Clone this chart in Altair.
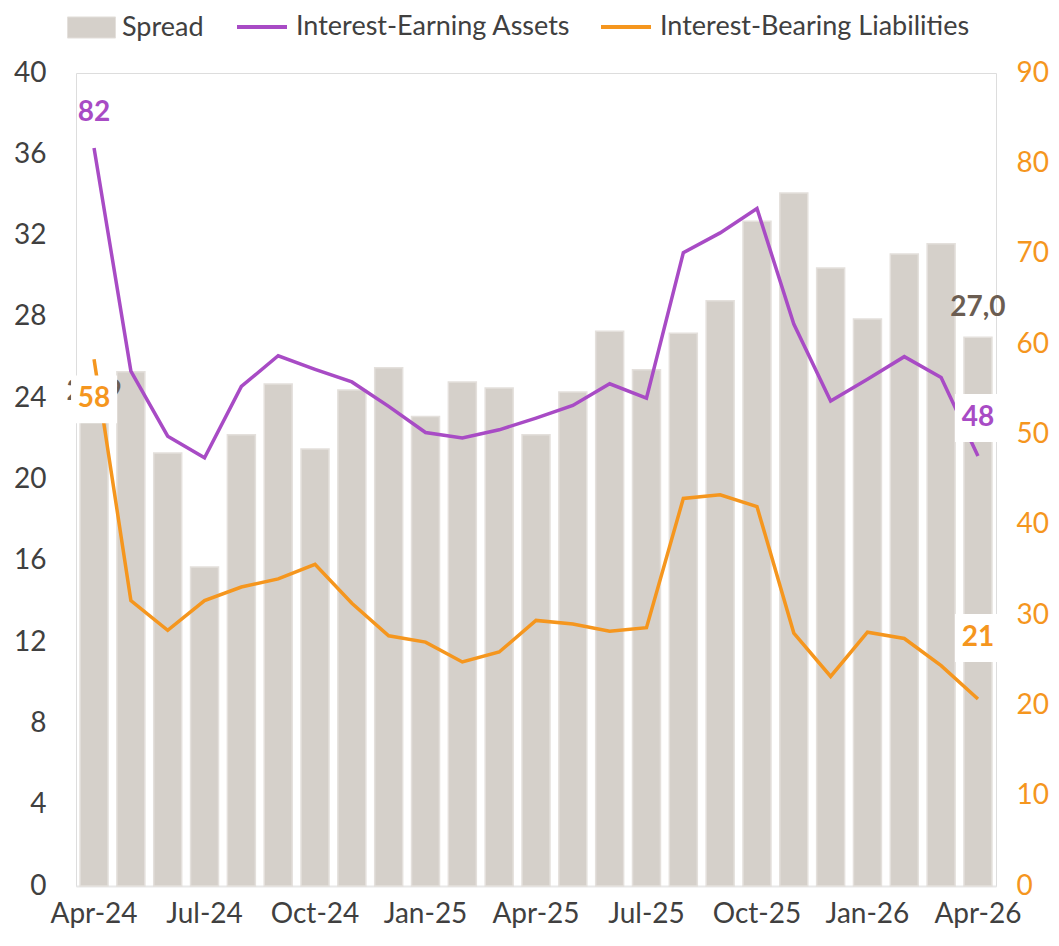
import altair as alt
import pandas as pd

months = ["Apr-24", "May-24", "Jun-24", "Jul-24", "Aug-24", "Sep-24", "Oct-24", "Nov-24",
          "Dec-24", "Jan-25", "Feb-25", "Mar-25", "Apr-25", "May-25", "Jun-25", "Jul-25",
          "Aug-25", "Sep-25", "Oct-25", "Nov-25", "Dec-25", "Jan-26", "Feb-26", "Mar-26", "Apr-26"]
spread = [22.9, 25.3, 21.3, 15.7, 22.2, 24.7, 21.5, 24.4, 25.5, 23.1, 24.8, 24.5, 22.2,
          24.3, 27.3, 25.4, 27.2, 28.8, 32.7, 34.1, 30.4, 27.9, 31.1, 31.6, 27.0]
assets = [81.7, 57.0, 49.8, 47.4, 55.3, 58.7, 57.2, 55.8, 53.1, 50.2, 49.6, 50.5, 51.8,
          53.2, 55.6, 54.0, 70.1, 72.3, 75.0, 62.2, 53.7, 56.1, 58.6, 56.3, 47.6]
liabilities = [58.3, 31.6, 28.3, 31.6, 33.1, 34.0, 35.6, 31.3, 27.7, 27.0, 24.8, 25.9, 29.4,
               29.0, 28.2, 28.6, 42.9, 43.3, 42.0, 28.0, 23.2, 28.1, 27.4, 24.4, 20.7]
tick_months = months[::3]
left_ticks = list(range(0, 41, 4))
right_ticks = list(range(0, 91, 10))
series_names = ["Interest-Earning Assets", "Interest-Bearing Liabilities"]

FONT = "Lato"
TXT = "#404040"
BAR_FILL = "#d5d0ca"
BAR_STROKE = "#e4e0dc"
PURPLE = "#a84bc5"
ORANGE = "#f5961e"
BROWN = "#6b5d52"
FS = 28
LFS = 27

bars_df = pd.DataFrame({"month": months, "spread": spread, "series": ["Spread"] * len(months)})
lines_df = pd.DataFrame({
    "month": months * 2,
    "value": assets + liabilities,
    "series": [series_names[0]] * len(months) + [series_names[1]] * len(months),
})

x_enc = alt.X("month:N",
              scale=alt.Scale(domain=months, paddingInner=0.24, paddingOuter=0.11),
              axis=alt.Axis(values=tick_months, labelAngle=0, ticks=False, grid=False,
                            domainColor="#e8e8e8", domainWidth=2, labelPadding=14,
                            labelFontSize=FS, labelColor=TXT, labelFont=FONT, title=None))

y_left = alt.Y("spread:Q",
               scale=alt.Scale(domain=[0, 40], nice=False),
               axis=alt.Axis(values=left_ticks, orient="left", grid=False, ticks=False,
                             domain=False, labelPadding=30, labelFontSize=FS,
                             labelColor=TXT, labelFont=FONT, title=None))

y_right = alt.Y("value:Q",
                scale=alt.Scale(domain=[0, 90], nice=False),
                axis=alt.Axis(values=right_ticks, orient="right", grid=False, ticks=False,
                              domain=False, labelPadding=20, labelFontSize=FS,
                              labelColor=ORANGE, labelFont=FONT, title=None))

bars = alt.Chart(bars_df).mark_bar(stroke=BAR_STROKE, strokeWidth=1.5).encode(
    x=x_enc,
    y=y_left,
    fill=alt.Fill("series:N",
                  scale=alt.Scale(domain=["Spread"], range=[BAR_FILL]),
                  legend=alt.Legend(title=None, orient="none", legendX=-9, legendY=-70,
                                    symbolType="M-1,-0.44H1V0.44H-1Z", symbolSize=2304,
                                    symbolStrokeColor=BAR_STROKE, symbolStrokeWidth=1,
                                    symbolOpacity=1, labelFontSize=LFS, labelFont=FONT,
                                    labelColor=TXT, labelOffset=6, labelLimit=500)),
)


def bar_label(idx):
    df = pd.DataFrame({"month": [months[idx]], "spread": [spread[idx]]})
    return alt.Chart(df).transform_calculate(
        lab="replace(format(datum.spread, '.1f'), '.', ',')"
    ).mark_text(dy=-29, fontSize=FS, fontWeight="bold", font=FONT, color=BROWN,
                baseline="middle").encode(x=x_enc, y=y_left, text="lab:N")


bar_layer = alt.layer(bars, bar_label(0), bar_label(len(months) - 1))

lines = alt.Chart(lines_df).mark_line(strokeWidth=3.5).encode(
    x=x_enc,
    y=y_right,
    stroke=alt.Stroke("series:N",
                      scale=alt.Scale(domain=series_names, range=[PURPLE, ORANGE]),
                      legend=alt.Legend(title=None, orient="none", direction="horizontal",
                                        legendX=159, legendY=-73, symbolType="stroke",
                                        symbolSize=2500, symbolStrokeWidth=4,
                                        columnPadding=22, labelOffset=7, labelFontSize=LFS,
                                        labelFont=FONT, labelColor=TXT, labelLimit=600)),
)

BOX = "M-1,-1.04H1V1.04H-1Z"


def line_label(idx, values, color, off, box):
    df = pd.DataFrame({"month": [months[idx]], "value": [values[idx]]})
    base = alt.Chart(df)
    layers = []
    if box:
        layers.append(base.mark_point(shape=BOX, size=2116, filled=True, color="white",
                                      opacity=1, strokeWidth=0, yOffset=off).encode(
            x=x_enc, y=y_right))
    layers.append(base.transform_calculate(lab="format(datum.value, '.0f')").mark_text(
        dy=off, fontSize=FS, fontWeight="bold", font=FONT, color=color,
        baseline="middle").encode(x=x_enc, y=y_right, text="lab:N"))
    return layers


last = len(months) - 1
line_layer = alt.layer(
    lines,
    *line_label(0, assets, PURPLE, -35, False),
    *line_label(0, liabilities, ORANGE, 40, True),
    *line_label(last, assets, PURPLE, -38, True),
    *line_label(last, liabilities, ORANGE, -61, True),
)

chart = alt.layer(bar_layer, line_layer).resolve_scale(y="independent").properties(
    width=920, height=813,
    autosize=alt.AutoSizeParams(type="none"),
    padding={"left": 68, "top": 65, "right": 55, "bottom": 60},
    background="white",
).configure_view(stroke=None, strokeWidth=0).configure(font=FONT)

chart.save("out.html", embed_options={"renderer": "svg", "actions": False})
